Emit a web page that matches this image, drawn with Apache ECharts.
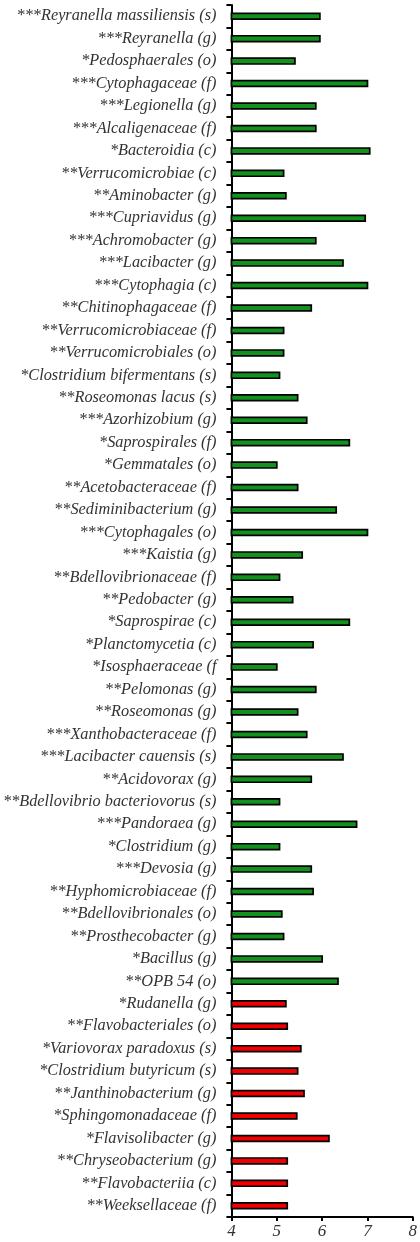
<!DOCTYPE html>
<html>
<head>
<meta charset="utf-8">
<script src="https://cdn.jsdelivr.net/npm/echarts@6/dist/echarts.min.js"></script>
<style>
  html, body { margin: 0; padding: 0; background: #fff; }
  #chart { width: 420px; height: 1242px; }
</style>
</head>
<body>
<div id="chart"></div>
<script>
// Taxa enriched in the first group (green bars), top to bottom
const greenTaxa = [
  '***Reyranella massiliensis (s)', '***Reyranella (g)', '*Pedosphaerales (o)',
  '***Cytophagaceae (f)', '***Legionella (g)', '***Alcaligenaceae (f)',
  '*Bacteroidia (c)', '**Verrucomicrobiae (c)', '**Aminobacter (g)',
  '***Cupriavidus (g)', '***Achromobacter (g)', '***Lacibacter (g)',
  '***Cytophagia (c)', '**Chitinophagaceae (f)', '**Verrucomicrobiaceae (f)',
  '**Verrucomicrobiales (o)', '*Clostridium bifermentans (s)', '**Roseomonas lacus (s)',
  '***Azorhizobium (g)', '*Saprospirales (f)', '*Gemmatales (o)',
  '**Acetobacteraceae (f)', '**Sediminibacterium (g)', '***Cytophagales (o)',
  '***Kaistia (g)', '**Bdellovibrionaceae (f)', '**Pedobacter (g)',
  '*Saprospirae (c)', '*Planctomycetia (c)', '*Isosphaeraceae (f',
  '**Pelomonas (g)', '**Roseomonas (g)', '***Xanthobacteraceae (f)',
  '***Lacibacter cauensis (s)', '**Acidovorax (g)', '**Bdellovibrio bacteriovorus (s)',
  '***Pandoraea (g)', '*Clostridium (g)', '***Devosia (g)',
  '**Hyphomicrobiaceae (f)', '**Bdellovibrionales (o)', '**Prosthecobacter (g)',
  '*Bacillus (g)', '**OPB 54 (o)'
];
const greenValues = [
  5.97, 5.97, 5.42, 7.02, 5.88, 5.88, 7.07, 5.17, 5.22,
  6.97, 5.88, 6.48, 7.02, 5.78, 5.17, 5.17, 5.08, 5.48,
  5.68, 6.62, 5.02, 5.48, 6.33, 7.02, 5.58, 5.08, 5.37,
  6.62, 5.82, 5.02, 5.88, 5.48, 5.68, 6.48, 5.78, 5.08,
  6.78, 5.08, 5.78, 5.82, 5.13, 5.17, 6.02, 6.37
];

// Taxa enriched in the second group (red bars)
const redTaxa = [
  '*Rudanella (g)', '**Flavobacteriales (o)', '*Variovorax paradoxus (s)',
  '*Clostridium butyricum (s)', '**Janthinobacterium (g)', '*Sphingomonadaceae (f)',
  '*Flavisolibacter (g)', '**Chryseobacterium (g)', '**Flavobacteriia (c)',
  '**Weeksellaceae (f)'
];
const redValues = [5.22, 5.25, 5.55, 5.48, 5.62, 5.46, 6.17, 5.25, 5.25, 5.25];

// LDA score axis ticks
const xTicks = [4, 5, 6, 7, 8];

const GREEN = '#12911f';
const RED = '#f00000';

const categories = greenTaxa.concat(redTaxa);
const barData = greenValues.map(v => ({ value: v, itemStyle: { color: GREEN } }))
  .concat(redValues.map(v => ({ value: v, itemStyle: { color: RED } })));

const serif = '"Liberation Serif", "Times New Roman", serif';

const chart = echarts.init(document.getElementById('chart'), null, { renderer: 'canvas' });
chart.setOption({
  animation: false,
  grid: { left: 229, right: 3, top: 5, bottom: 25, containLabel: false },
  xAxis: {
    type: 'value',
    min: xTicks[0],
    max: xTicks[xTicks.length - 1],
    interval: 1,
    splitLine: { show: false },
    axisLine: { show: true, lineStyle: { color: '#000', width: 2 } },
    axisTick: { show: true, length: 4, lineStyle: { color: '#000', width: 2 } },
    axisLabel: {
      fontFamily: serif, fontStyle: 'italic', fontSize: 17, color: '#333', margin: 6
    }
  },
  yAxis: {
    type: 'category',
    data: categories,
    inverse: true,
    axisLine: { show: true, lineStyle: { color: '#000', width: 2 } },
    axisTick: { show: true, length: 5, lineStyle: { color: '#000', width: 2 } },
    axisLabel: {
      fontFamily: serif, fontStyle: 'italic', fontSize: 16.3, color: '#333', margin: 15,
      interval: 0
    }
  },
  series: [{
    type: 'bar',
    data: barData,
    barWidth: 7.5,
    itemStyle: { borderColor: '#000', borderWidth: 1.7 }
  }]
});
</script>
</body>
</html>
